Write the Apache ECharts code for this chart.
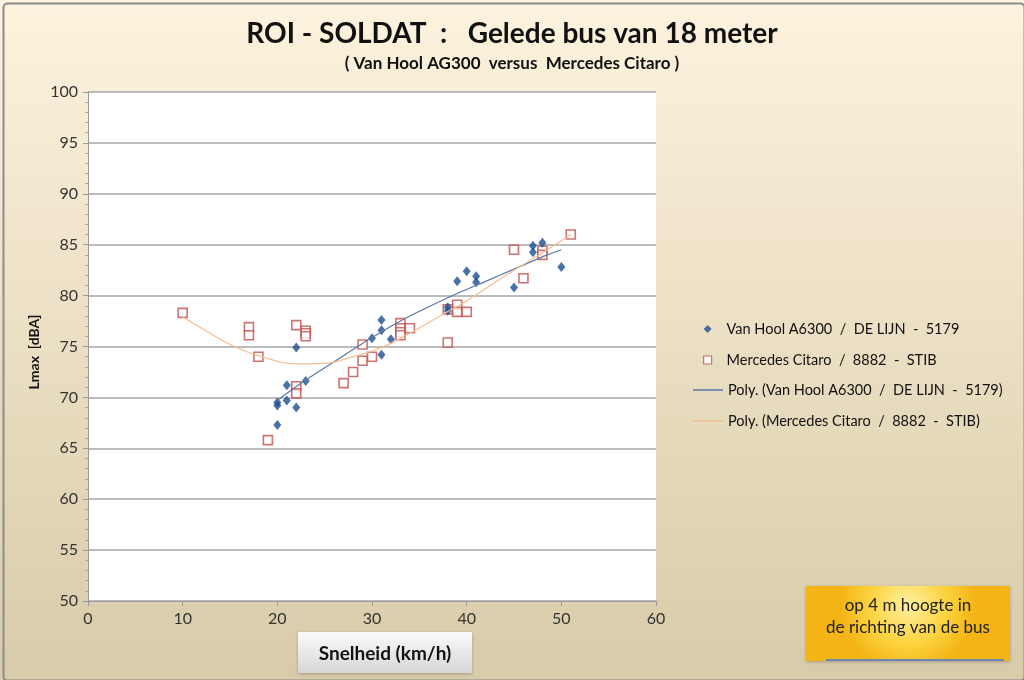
<!DOCTYPE html>
<html>
<head>
<meta charset="utf-8">
<script src="https://cdn.jsdelivr.net/npm/echarts@6/dist/echarts.min.js"></script>
<style>
html,body{margin:0;padding:0;background:#fff;}
#c{width:1024px;height:680px;}
</style>
</head>
<body>
<div id="c"></div>
<script>
// ---- data ----
var titleText = 'ROI - SOLDAT  :   Gelede bus van 18 meter';
var subtitleText = '( Van Hool AG300  versus  Mercedes Citaro )';
var seriesNames = ['Van Hool A6300  /  DE LIJN  -  5179', 'Mercedes Citaro  /  8882  -  STIB',
  'Poly. (Van Hool A6300  /  DE LIJN  -  5179)', 'Poly. (Mercedes Citaro  /  8882  -  STIB)'];
var xTicks = [0, 10, 20, 30, 40, 50, 60];
var yTicks = [50, 55, 60, 65, 70, 75, 80, 85, 90, 95, 100];

var vanHool = [[20,69.5],[20,69.2],[20,67.3],[21,71.2],[21,69.7],[22,74.9],[22,69.0],[23,71.6],
  [30,75.8],[31,77.6],[31,76.6],[31,74.2],[32,75.7],[38,78.85],[38,78.5],[39,81.4],[40,82.4],
  [41,81.9],[41,81.3],[45,80.8],[47,84.9],[47,84.25],[48,85.2],[50,82.8]];

var mercedes = [[10,78.3],[17,76.9],[17,76.1],[18,74.0],[19,65.8],[22,77.1],[22,71.1],[22,70.4],
  [23,76.55],[23,76.3],[23,76.0],[27,71.4],[28,72.5],[29,73.6],[29,75.2],[30,74.0],[33,77.3],
  [33,76.8],[33,76.4],[33,76.1],[34,76.8],[38,78.65],[38,75.4],[39,79.1],[39,78.4],[40,78.4],
  [45,84.5],[46,81.7],[48,84.4],[48,84.0],[51,86.0]];

var polyVanHool = [[20,69.7],[23,71.7],[26,73.5],[29,75.3],[33,77.5],[36,78.9],[39,80.2],
  [42,81.4],[45,82.6],[48,83.8],[50,84.5]];

var polyMercedes = [[10,77.9],[12,76.8],[15,75.2],[18,74.1],[22,73.3],[25,73.35],[28,74.0],
  [31,74.9],[34,76.3],[37,77.9],[40,79.5],[44,81.9],[48,84.2],[51,86.0]];

var boxText = 'op 4 m hoogte in\nde richting van de bus';
var xName = 'Snelheid (km/h)';
var yName = 'Lmax  [dBA]';

var FONT = 'Lato, "Open Sans", sans-serif';

var chart = echarts.init(document.getElementById('c'));
chart.setOption({
  backgroundColor: {
    type: 'linear', x: 0, y: 0, x2: 0, y2: 1,
    colorStops: [{offset: 0, color: '#fdf3de'}, {offset: 1, color: '#d8cba9'}]
  },
  animation: false,
  title: [{
    text: titleText, left: 'center', top: 15,
    textStyle: {fontFamily: FONT, fontSize: 28, fontWeight: 'bold', color: '#111'}
  }, {
    text: subtitleText, left: 'center', top: 50,
    textStyle: {fontFamily: FONT, fontSize: 17, fontWeight: 'bold', color: '#111'}
  }],
  grid: {left: 88, right: 368, top: 92, bottom: 79, show: true, backgroundColor: '#ffffff', borderWidth: 0},
  legend: [{
    orient: 'vertical', left: 698, top: 315,
    itemWidth: 8, itemHeight: 8, itemGap: 13,
    data: [{name: seriesNames[0], icon: 'diamond', itemStyle: {color: '#1c4f91'}},
           {name: seriesNames[1], icon: 'rect', itemStyle: {color: '#ffffff', borderColor: '#c0504d', borderWidth: 1.2}}],
    textStyle: {fontFamily: FONT, fontSize: 14.5, color: '#111', lineHeight: 18, padding: [0, 0, 0, 10]}
  }, {
    orient: 'vertical', left: 688, top: 376,
    itemWidth: 30, itemHeight: 1.5, itemGap: 13,
    data: [{name: seriesNames[2], icon: 'rect', itemStyle: {color: '#5a78a8'}},
           {name: seriesNames[3], icon: 'rect', itemStyle: {color: '#f5be90'}}],
    textStyle: {fontFamily: FONT, fontSize: 14.5, color: '#111', lineHeight: 18}
  }],
  xAxis: {
    type: 'value', min: xTicks[0], max: xTicks[xTicks.length - 1], interval: 10,
    axisLine: {lineStyle: {color: '#9a9a9a'}},
    axisTick: {show: true, length: 5, lineStyle: {color: '#9a9a9a'}},
    splitLine: {show: false},
    axisLabel: {fontFamily: FONT, fontSize: 16, color: '#333', margin: 10}
  },
  yAxis: {
    type: 'value', min: yTicks[0], max: yTicks[yTicks.length - 1], interval: 5,
    axisLine: {show: true, lineStyle: {color: '#9a9a9a'}},
    axisTick: {show: true, length: 5, lineStyle: {color: '#9a9a9a'}},
    minorTick: {show: true, splitNumber: 5, length: 3, lineStyle: {color: '#a8a8a8'}},
    splitLine: {show: true, lineStyle: {color: '#a6a6a6', width: 1.5}},
    axisLabel: {fontFamily: FONT, fontSize: 16, color: '#333', margin: 10}
  },
  series: [{
    name: seriesNames[0], type: 'scatter', data: vanHool,
    symbol: 'diamond', symbolSize: [8, 10],
    itemStyle: {color: '#1c4f91'}, z: 3
  }, {
    name: seriesNames[1], type: 'scatter', data: mercedes,
    symbol: 'rect', symbolSize: 9,
    itemStyle: {color: '#ffffff', borderColor: '#c0504d', borderWidth: 1.6}, z: 2
  }, {
    name: seriesNames[2], type: 'line', data: polyVanHool, smooth: 0.4,
    symbol: 'none', lineStyle: {color: '#5a78a8', width: 1.2}, itemStyle: {color: '#5a78a8'}, z: 4
  }, {
    name: seriesNames[3], type: 'line', data: polyMercedes, smooth: 0.4,
    symbol: 'none', lineStyle: {color: '#f5be90', width: 1.2}, itemStyle: {color: '#f5be90'}, z: 4
  }],
  graphic: [{
    type: 'rect', left: 1, top: 1, shape: {width: 1021, height: 677, r: 4},
    style: {fill: 'none', stroke: '#8c8c8c', lineWidth: 2}, silent: true, z: -1
  }, {
    type: 'text', x: 34, y: 352, rotation: Math.PI / 2,
    style: {text: yName, font: 'bold 14px ' + FONT, fill: '#111', align: 'center', verticalAlign: 'middle'}
  }, {
    type: 'group', left: 298, top: 632,
    children: [{
      type: 'rect', shape: {width: 174, height: 41},
      style: {
        fill: {type: 'linear', x: 0, y: 0, x2: 0, y2: 1,
          colorStops: [{offset: 0, color: '#fbfbfb'}, {offset: 1, color: '#d6d6d6'}]},
        shadowBlur: 3, shadowColor: 'rgba(0,0,0,0.25)', shadowOffsetY: 1
      }
    }, {
      type: 'text', x: 87, y: 22,
      style: {text: xName, font: 'bold 19px ' + FONT, fill: '#111', align: 'center', verticalAlign: 'middle'}
    }]
  }, {
    type: 'group', left: 806, top: 586,
    children: [{
      type: 'rect', shape: {width: 204, height: 75},
      style: {
        fill: {type: 'radial', x: 0.5, y: 0.25, r: 0.9,
          colorStops: [{offset: 0, color: '#fff0a0'}, {offset: 0.6, color: '#fcd23c'}, {offset: 1, color: '#f4b416'}]},
        shadowBlur: 3, shadowColor: 'rgba(0,0,0,0.25)', shadowOffsetY: 1
      }
    }, {
      type: 'line', shape: {x1: 20, y1: 74, x2: 198, y2: 74},
      style: {stroke: '#6b86b5', lineWidth: 2}
    }, {
      type: 'text', x: 102, y: 31,
      style: {text: boxText, font: '17px ' + FONT, fill: '#222', align: 'center', verticalAlign: 'middle', lineHeight: 22}
    }]
  }]
});
</script>
</body>
</html>
